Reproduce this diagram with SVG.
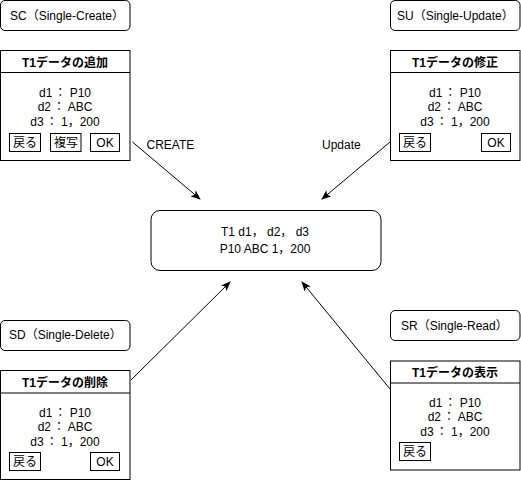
<svg xmlns="http://www.w3.org/2000/svg" width="521" height="481" viewBox="0 0 521 481">
<style>
text{font-family:"Liberation Sans","Noto Sans CJK JP",sans-serif;font-size:12px;fill:#000}
.t{font-weight:bold;text-anchor:middle}
.c{text-anchor:middle}
.box{fill:#fff;stroke:#000;stroke-width:1}
.ln{stroke:#000;stroke-width:1;fill:none}
</style>
<defs>
<marker id="arr" markerUnits="userSpaceOnUse" viewBox="0 0 10 8" refX="9" refY="4" markerWidth="10" markerHeight="8" orient="auto">
<path d="M0,0 L10,4 L0,8 L2.5,4 z" fill="#000"/>
</marker>
</defs>
<rect width="521" height="481" fill="#fff"/>

<g id="connectors">
<line class="ln" x1="132.5" y1="142" x2="200" y2="199" marker-end="url(#arr)"/>
<line class="ln" x1="390" y1="142" x2="322" y2="199" marker-end="url(#arr)"/>
<line class="ln" x1="131" y1="380" x2="230" y2="282" marker-end="url(#arr)"/>
<line class="ln" x1="390" y1="389" x2="302" y2="282" marker-end="url(#arr)"/>
<text x="146.5" y="149">CREATE</text>
<text x="322" y="149">Update</text>
</g>

<g id="center">
<rect class="box" x="151" y="210.5" width="230" height="60" rx="9"/>
<text class="c" x="265" y="236">T1 d1， d2， d3</text>
<text class="c" x="265" y="253">P10 ABC 1，200</text>
</g>

<g id="sc-label">
<rect class="box" x="0.5" y="0.5" width="129.5" height="30" rx="4.5"/>
<text x="10" y="20">SC（Single-Create）</text>
</g>
<g id="sc-form">
<rect class="box" x="0.5" y="50.5" width="129.5" height="110"/>
<line class="ln" x1="0.5" y1="72.5" x2="130" y2="72.5"/>
<text class="t" x="65" y="66.5">T1データの追加</text>
<text class="c" x="65" y="97">d1<tspan dx="2">：</tspan> P10</text>
<text class="c" x="65" y="111">d2<tspan dx="2">：</tspan> ABC</text>
<text class="c" x="65" y="126">d3<tspan dx="2">：</tspan> 1，200</text>
<rect class="box" x="9.5" y="133.5" width="31" height="18"/>
<text class="c" x="25" y="147">戻る</text>
<rect class="box" x="50.5" y="133.5" width="30.5" height="18"/>
<text class="c" x="66" y="147">複写</text>
<rect class="box" x="90.5" y="133.5" width="29" height="18"/>
<text class="c" x="105" y="147">OK</text>
</g>

<g id="su-label">
<rect class="box" x="390.5" y="0.5" width="129.5" height="30" rx="4.5"/>
<text x="397" y="20">SU（Single-Update）</text>
</g>
<g id="su-form">
<rect class="box" x="390.5" y="50.5" width="129.5" height="110"/>
<line class="ln" x1="390.5" y1="72.5" x2="520" y2="72.5"/>
<text class="t" x="455" y="66.5">T1データの修正</text>
<text class="c" x="455" y="97">d1<tspan dx="2">：</tspan> P10</text>
<text class="c" x="455" y="111">d2<tspan dx="2">：</tspan> ABC</text>
<text class="c" x="455" y="126">d3<tspan dx="2">：</tspan> 1，200</text>
<rect class="box" x="399.5" y="133.5" width="31" height="18"/>
<text class="c" x="415" y="147">戻る</text>
<rect class="box" x="481.5" y="133.5" width="29" height="18"/>
<text class="c" x="496" y="147">OK</text>
</g>

<g id="sd-label">
<rect class="box" x="0.5" y="320.5" width="129.5" height="30" rx="4.5"/>
<text x="9" y="339">SD（Single-Delete）</text>
</g>
<g id="sd-form">
<rect class="box" x="0.5" y="370.5" width="129.5" height="109"/>
<line class="ln" x1="0.5" y1="393" x2="130" y2="393"/>
<text class="t" x="65" y="387">T1データの削除</text>
<text class="c" x="65" y="417">d1<tspan dx="2">：</tspan> P10</text>
<text class="c" x="65" y="431">d2<tspan dx="2">：</tspan> ABC</text>
<text class="c" x="65" y="446">d3<tspan dx="2">：</tspan> 1，200</text>
<rect class="box" x="9.5" y="452.5" width="31" height="18"/>
<text class="c" x="25" y="466">戻る</text>
<rect class="box" x="90.5" y="452.5" width="29" height="18"/>
<text class="c" x="105" y="466">OK</text>
</g>

<g id="sr-label">
<rect class="box" x="390.5" y="310.5" width="129.5" height="30" rx="4.5"/>
<text x="401" y="330">SR（Single-Read）</text>
</g>
<g id="sr-form">
<rect class="box" x="390.5" y="361" width="129.5" height="109"/>
<line class="ln" x1="390.5" y1="383" x2="520" y2="383"/>
<text class="t" x="455" y="377">T1データの表示</text>
<text class="c" x="455" y="407">d1<tspan dx="2">：</tspan> P10</text>
<text class="c" x="455" y="421">d2<tspan dx="2">：</tspan> ABC</text>
<text class="c" x="455" y="436">d3<tspan dx="2">：</tspan> 1，200</text>
<rect class="box" x="399.5" y="442.5" width="31" height="18"/>
<text class="c" x="415" y="456">戻る</text>
</g>
</svg>
